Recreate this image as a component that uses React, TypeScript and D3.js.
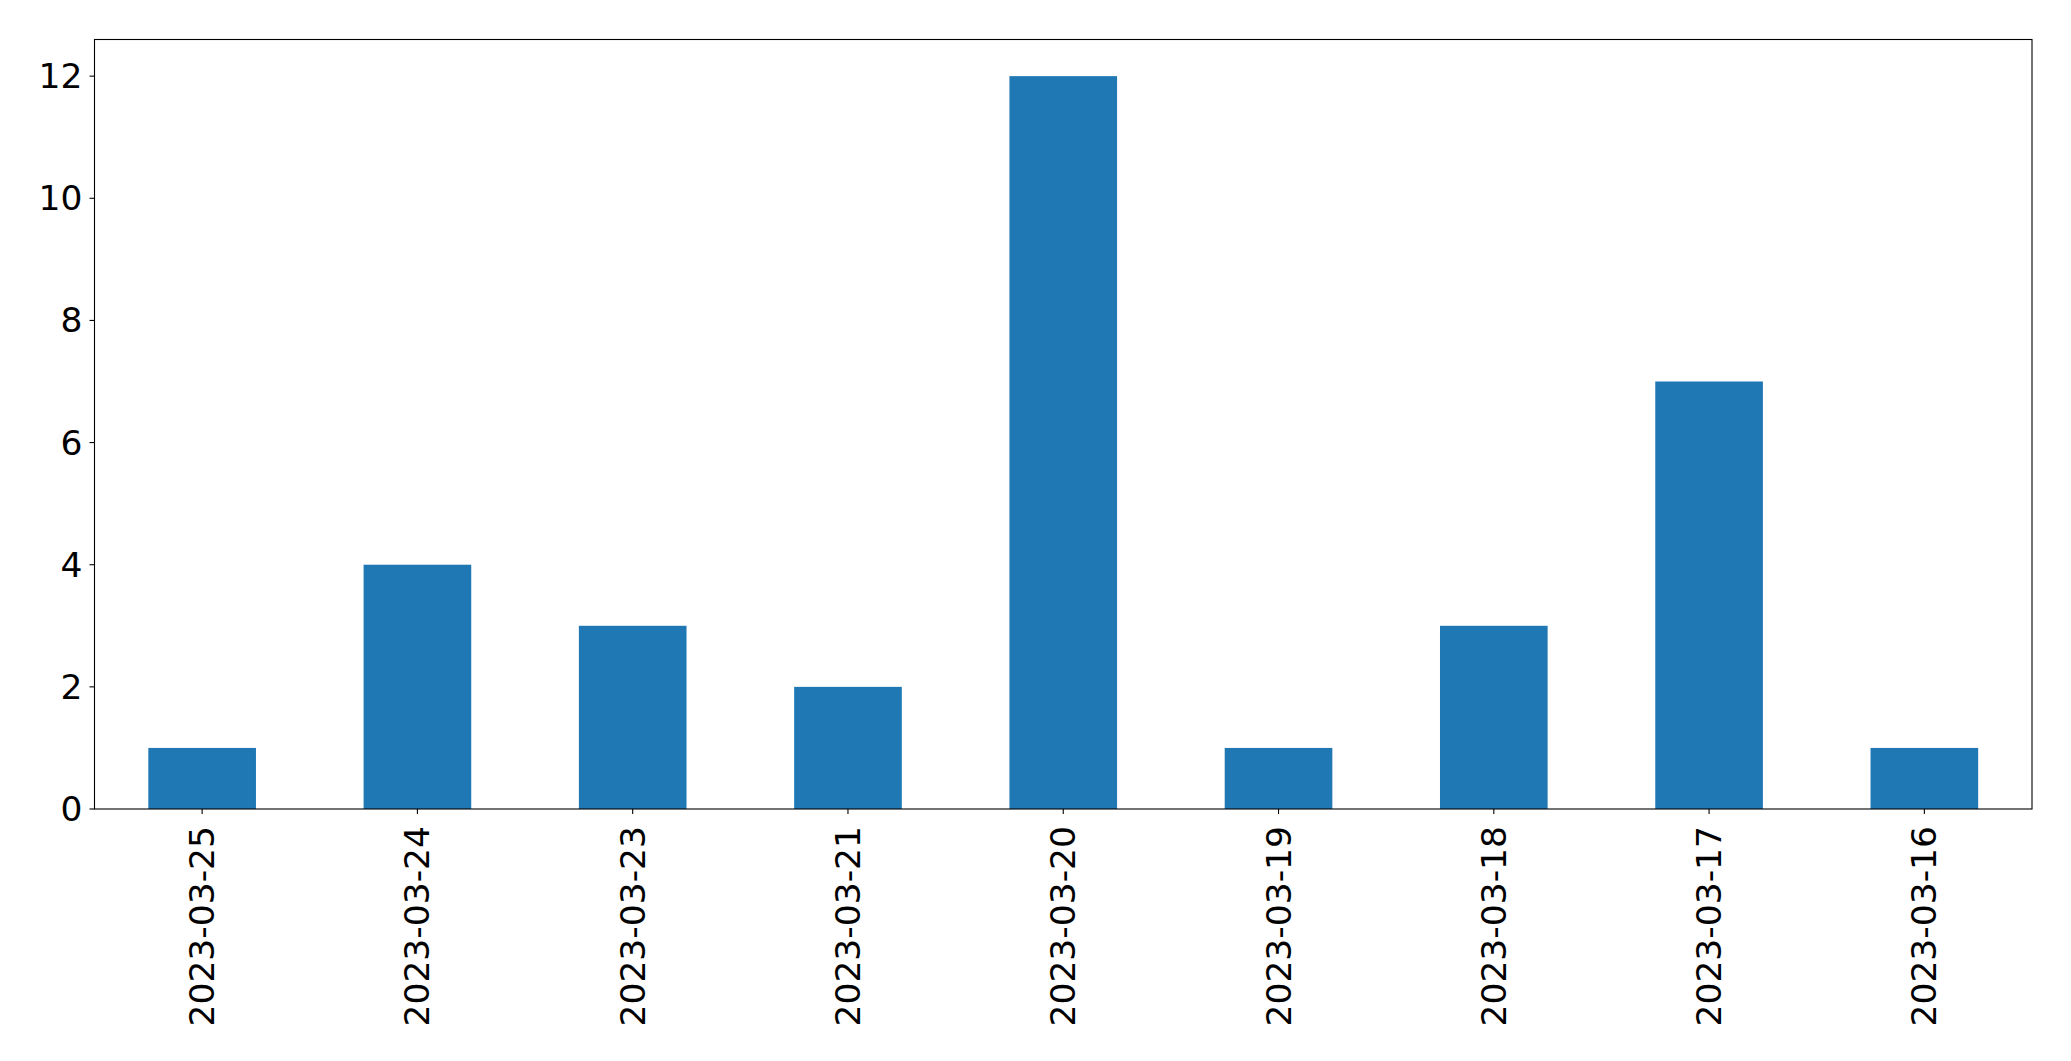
import React from "react";
import * as d3 from "d3";

const categories = ["2023-03-25", "2023-03-24", "2023-03-23", "2023-03-21", "2023-03-20", "2023-03-19", "2023-03-18", "2023-03-17", "2023-03-16"];
const values = [1, 4, 3, 2, 12, 1, 3, 7, 1];
const yTicks = [0, 2, 4, 6, 8, 10, 12];

const W = 2071;
const H = 1061;
const left = 94.5;
const right = 2032;
const top = 39.5;
const bottom = 809;
const FONT = "'DejaVu Sans', sans-serif";
const FS = 34.5;

export default function App() {
  const x = d3.scaleLinear().domain([-0.5, categories.length - 0.5]).range([left, right]);
  const y = d3.scaleLinear().domain([0, 12.6]).range([bottom, top]);
  const bw = x(0.25) - x(-0.25);
  return (
    <svg width={W} height={H} style={{ position: "absolute", left: 0, top: 0, background: "#fff" }}>
      <rect x={0} y={0} width={W} height={H} fill="#fff" />
      {values.map((v, i) => (
        <rect key={i} x={x(i) - bw / 2} y={y(v)} width={bw} height={y(0) - y(v)} fill="#1f77b4" />
      ))}
      <rect x={left} y={top} width={right - left} height={bottom - top} fill="none" stroke="#000" strokeWidth={1.1} />
      {yTicks.map((t) => (
        <g key={t}>
          <line x1={left - 5} x2={left} y1={y(t)} y2={y(t)} stroke="#000" strokeWidth={1.1} />
          <text x={left - 12} y={y(t)} textAnchor="end" dominantBaseline="central" fontFamily={FONT} fontSize={FS} fill="#000">
            {t}
          </text>
        </g>
      ))}
      {categories.map((c, i) => (
        <g key={c}>
          <line x1={x(i)} x2={x(i)} y1={bottom} y2={bottom + 5} stroke="#000" strokeWidth={1.1} />
          <text
            transform={`translate(${x(i)},${bottom + 17}) rotate(-90)`}
            textAnchor="end"
            dominantBaseline="central"
            fontFamily={FONT}
            fontSize={FS}
            fill="#000"
          >
            {c}
          </text>
        </g>
      ))}
    </svg>
  );
}
